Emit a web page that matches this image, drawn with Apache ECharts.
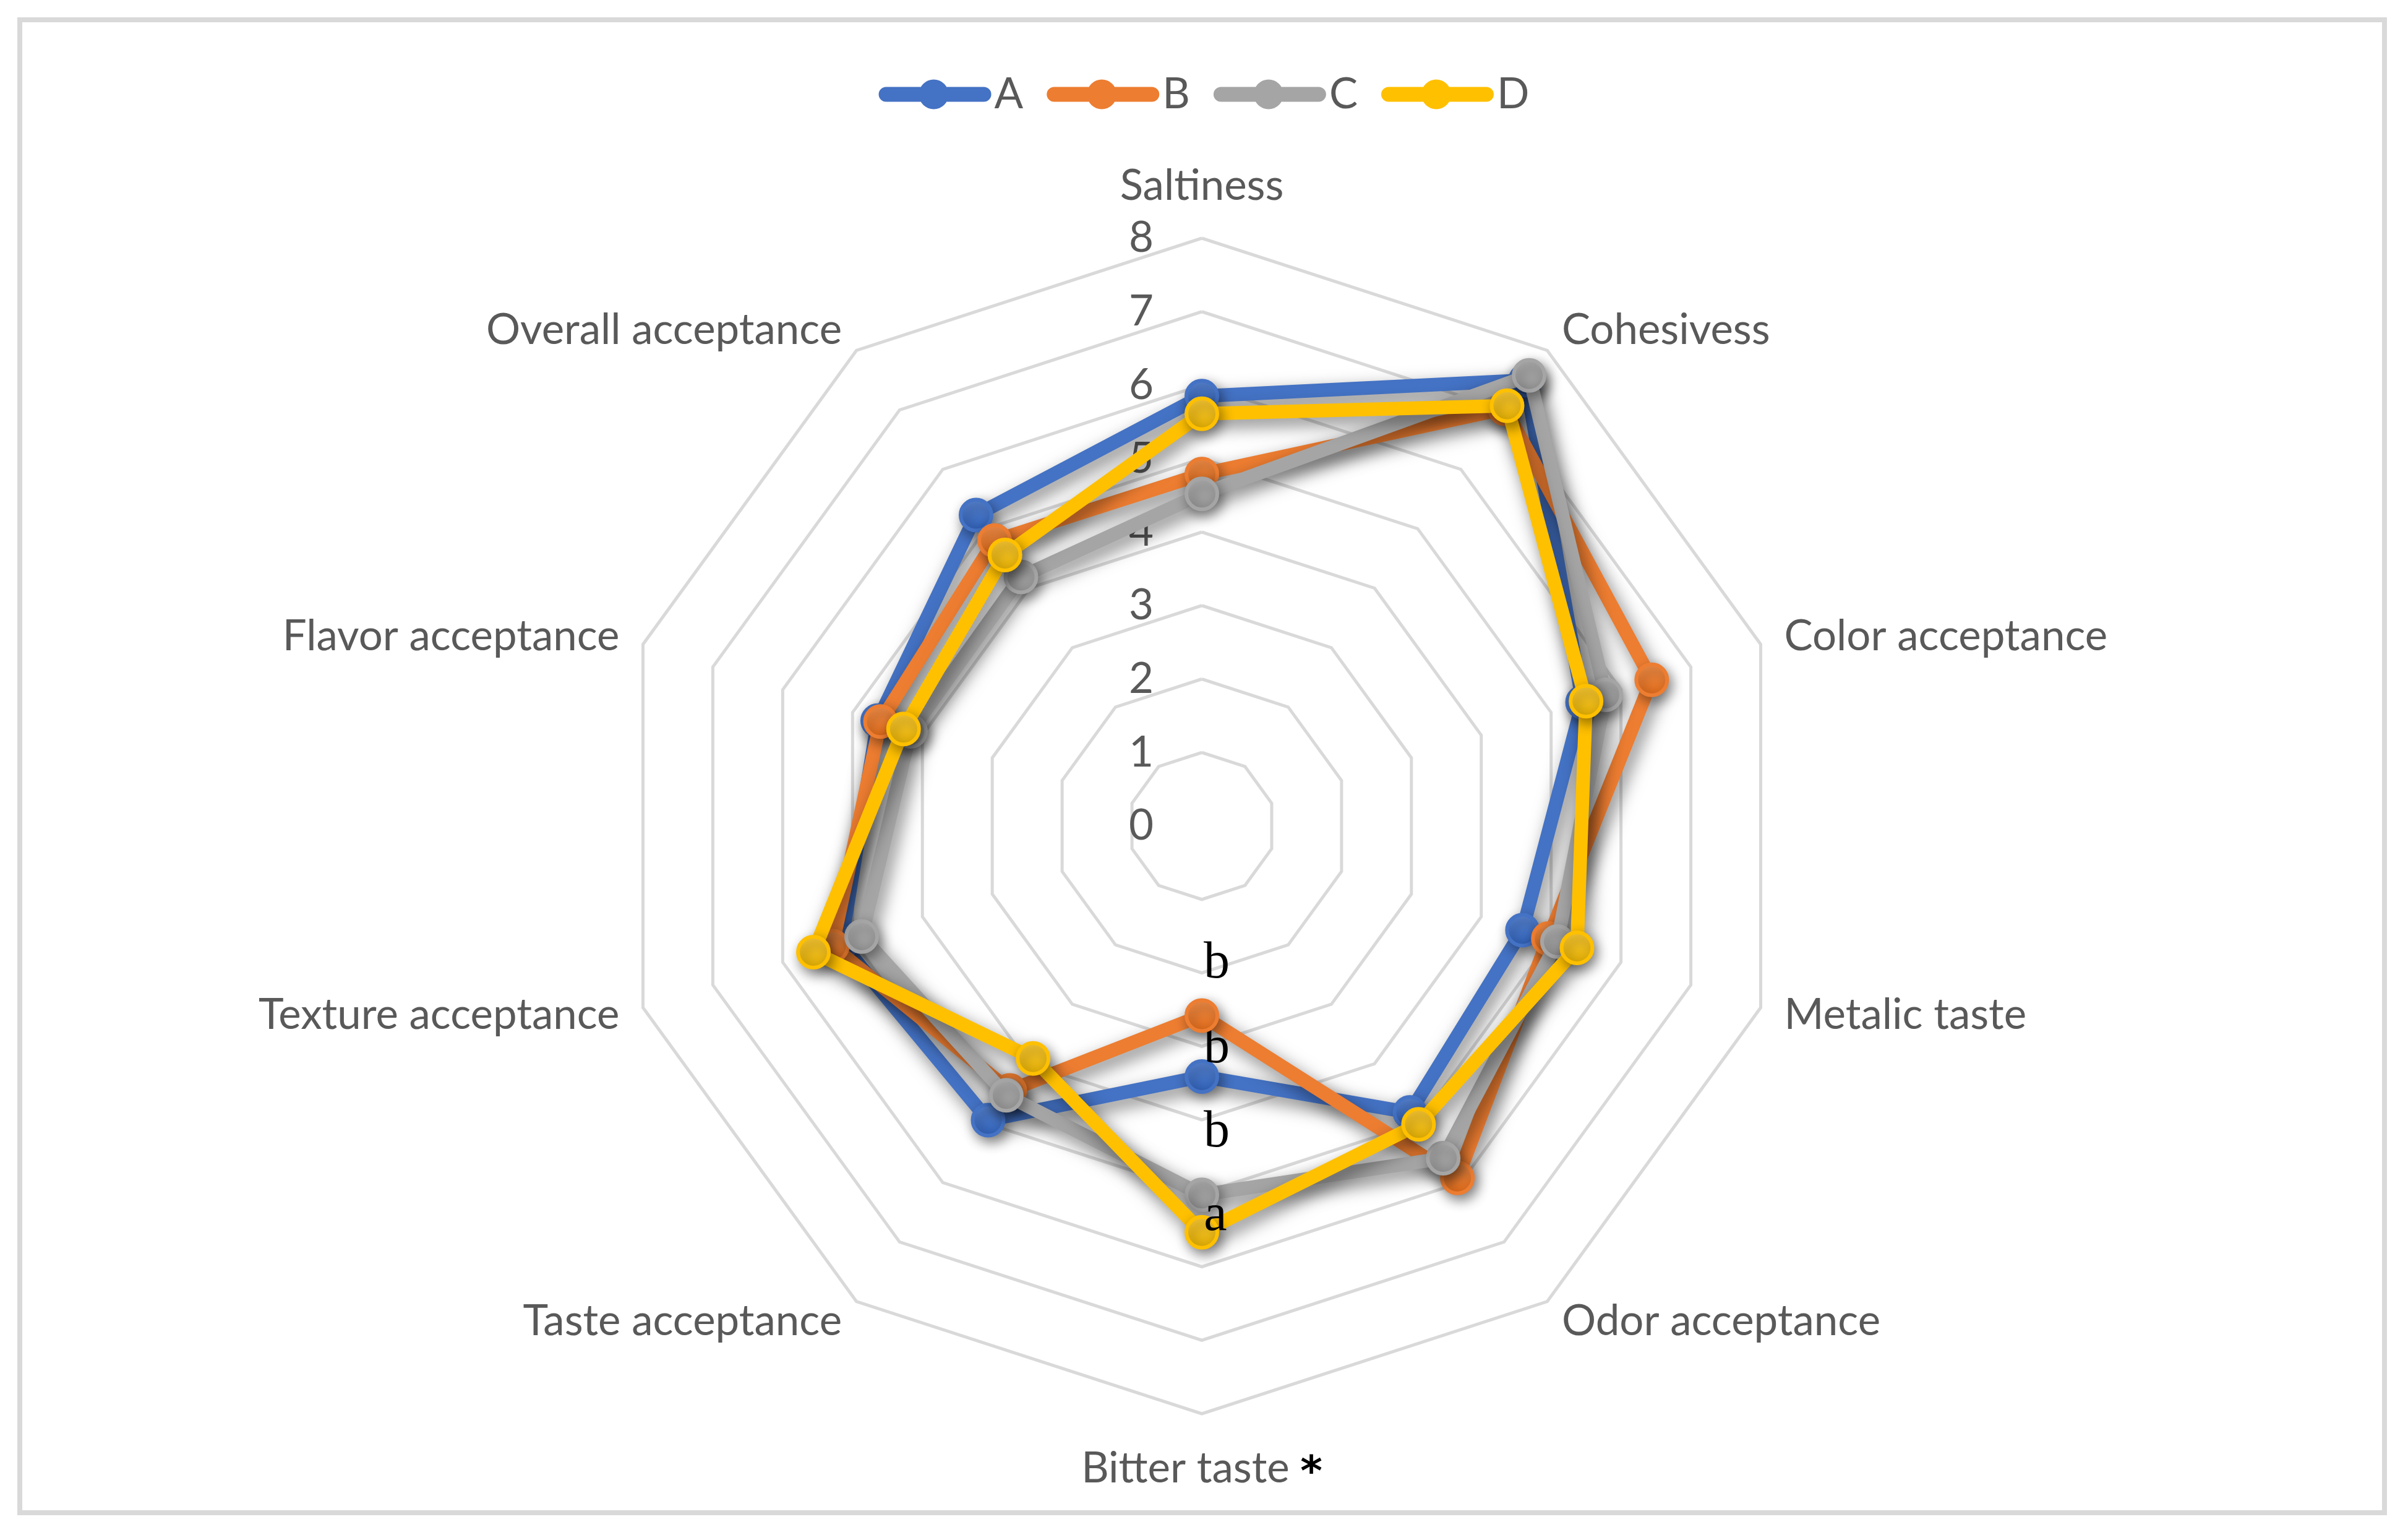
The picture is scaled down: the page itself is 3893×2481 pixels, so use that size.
<!DOCTYPE html>
<html><head><meta charset="utf-8">
<script src="https://cdn.jsdelivr.net/npm/echarts@6/dist/echarts.min.js"></script>
<style>html,body{margin:0;padding:0;background:#fff}#c{width:3893px;height:2481px}</style>
</head><body><div id="c"></div>
<script>
// Indicators in clockwise order starting at the top
const indicators = ['Saltiness', 'Cohesivess', 'Color acceptance', 'Metalic taste', 'Odor acceptance',
  'Bitter taste', 'Taste acceptance', 'Texture acceptance', 'Flavor acceptance', 'Overall acceptance'];
const seriesNames = ['A', 'B', 'C', 'D'];
const valuesA = [5.85, 7.50, 5.45, 4.59, 4.82, 3.41, 4.95, 5.16, 4.64, 5.23];
const valuesB = [4.79, 7.02, 6.44, 4.96, 5.92, 2.58, 4.45, 5.29, 4.60, 4.80];
const valuesC = [4.52, 7.58, 5.78, 5.09, 5.59, 5.02, 4.53, 4.87, 4.17, 4.19];
const valuesD = [5.61, 7.07, 5.50, 5.37, 5.02, 5.53, 3.91, 5.56, 4.27, 4.56];
const bitterLetters = ['b', 'b', 'b', 'a'];
const axisMin = 0, axisMax = 8, axisSplits = 8;

const allValues = [valuesA, valuesB, valuesC, valuesD];
const colors = ['#4472C4', '#ED7D31', '#A5A5A5', '#FFC000'];
const lightC = ['#5b88d6', '#f6924c', '#b3b3b3', '#ffcd38'];
const darkC = ['#2f60b8', '#e06a18', '#949494', '#e2ae00'];
const labelOffsets = [[24, -45], [24, -83], [24, -100], [22, -26]];

// ECharts places radar indicators counter-clockwise; reorder so they read clockwise
const order = [0, 9, 8, 7, 6, 5, 4, 3, 2, 1];
const bitterIdx = indicators.indexOf('Bitter taste');

const indicatorOpts = order.map(function (i) {
  const o = { name: indicators[i], min: axisMin, max: axisMax };
  if (i === 0) { o.axisLabel = { show: true }; o.nameGap = 50; }
  if (i === bitterIdx) { o.nameGap = 46; }
  return o;
});

const FONT = 'Lato';
const FS = 69;
const legendIcon = 'path://M12,12 L170,12 A12,12 0 0,1 170,36 L12,36 A12,12 0 0,1 12,12 Z M113,24 A24,24 0 1,1 65,24 A24,24 0 1,1 113,24 Z';

const series = seriesNames.map(function (name, s) {
  const vals = allValues[s];
  const bitterVal = vals[bitterIdx];
  return {
    type: 'radar',
    name: name,
    z: 2 + s,
    symbol: 'circle',
    symbolSize: 50,
    color: colors[s],
    lineStyle: {
      width: 22, color: colors[s], join: 'round',
      shadowColor: 'rgba(0,0,0,0.5)', shadowBlur: 28, shadowOffsetX: 7, shadowOffsetY: 11
    },
    itemStyle: {
      color: new echarts.graphic.LinearGradient(0, 0, 0, 1, [
        { offset: 0, color: lightC[s] }, { offset: 1, color: darkC[s] }
      ]),
      borderColor: colors[s], borderWidth: 6,
      shadowColor: 'rgba(0,0,0,0.4)', shadowBlur: 20, shadowOffsetX: 5, shadowOffsetY: 8
    },
    label: {
      show: true,
      position: 'inside',
      offset: labelOffsets[s],
      color: '#000',
      fontFamily: 'Liberation Serif',
      fontSize: 84,
      formatter: function (p) { return p.value === bitterVal ? bitterLetters[s] : ''; }
    },
    emphasis: { disabled: true },
    data: [{ name: name, value: order.map(function (i) { return vals[i]; }) }]
  };
});

const chart = echarts.init(document.getElementById('c'), null, { renderer: 'canvas' });
chart.setOption({
  backgroundColor: '#fff',
  animation: false,
  graphic: [{
    type: 'rect', shape: { x: 32, y: 32, width: 3823, height: 2413 },
    style: { fill: 'none', stroke: '#d9d9d9', lineWidth: 8 }, silent: true
  }],
  legend: {
    top: 113, left: 'center',
    itemWidth: 182, itemHeight: 48, itemGap: 38,
    icon: legendIcon,
    textStyle: { color: '#595959', fontSize: FS, fontFamily: FONT },
    data: seriesNames.map(function (n, s) { return { name: n, itemStyle: { color: colors[s], borderWidth: 0, shadowBlur: 0 } }; })
  },
  radar: {
    center: [1943, 1335],
    radius: 950,
    startAngle: 90,
    shape: 'polygon',
    splitNumber: axisSplits,
    nameGap: 40,
    axisName: {
      color: '#595959', fontSize: FS, fontFamily: FONT,
      formatter: function (n) { return n === 'Bitter taste' ? n + ' {s|*}' : n; },
      rich: { s: { color: '#000', fontSize: 68, fontWeight: 'bold', fontFamily: 'DejaVu Sans', padding: [18, 0, 0, 0] } }
    },
    axisLine: { show: false },
    axisTick: { show: false },
    axisLabel: { show: false, color: '#595959', fontSize: FS, fontFamily: FONT, margin: 78 },
    splitLine: { lineStyle: { color: '#d9d9d9', width: 5 } },
    splitArea: { show: false },
    indicator: indicatorOpts
  },
  series: series
});
</script>
</body></html>
